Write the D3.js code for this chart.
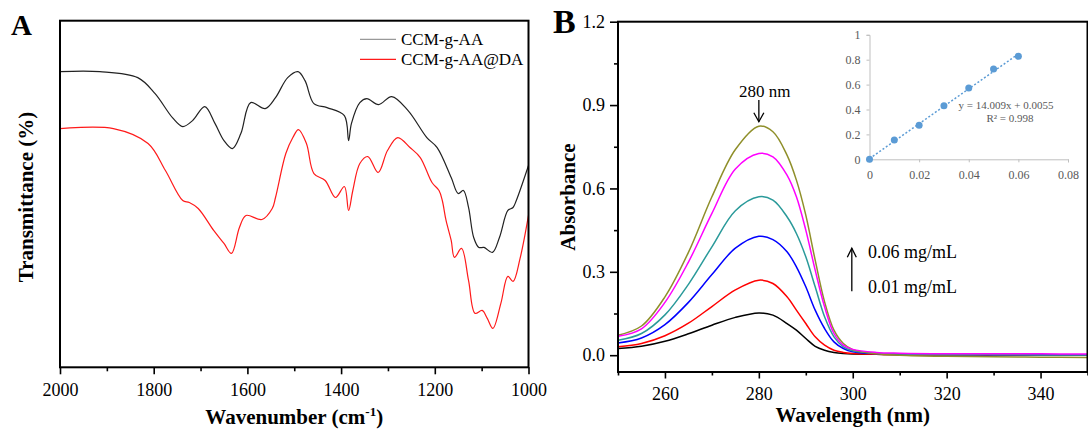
<!DOCTYPE html>
<html>
<head>
<meta charset="utf-8">
<script src="https://cdn.jsdelivr.net/npm/d3@7"></script>
<style>
  body { margin: 0; background: #fff; }
  svg text { font-family: "Liberation Serif", "Times New Roman", serif; }
</style>
</head>
<body>
<div id="chart"></div>
<script>
// ---- Panel A: FTIR spectra [wavenumber, transmittance (a.u.)] ----
const ccmGAA = [
  [2000, 296], [1915, 296], [1834, 290], [1797, 274], [1760, 250], [1738, 241], [1717, 247],
  [1691, 261], [1669, 244], [1650, 227], [1632, 219], [1614, 234], [1593, 265], [1562, 259],
  [1540, 270], [1514, 290], [1492, 296], [1477, 287], [1458, 264], [1430, 260], [1393, 252],
  [1384, 227], [1378, 244], [1360, 265], [1345, 269], [1320, 263], [1292, 271], [1257, 257],
  [1217, 230], [1195, 220], [1165, 190], [1150, 174], [1139, 177], [1128, 160], [1117, 130],
  [1106, 120], [1095, 120], [1077, 115], [1062, 130], [1044, 157], [1033, 160], [1026, 167],
  [1000, 202]
];
const ccmGAADA = [
  [2000, 239], [1886, 239], [1812, 224], [1775, 197], [1738, 167], [1724, 165], [1705, 159],
  [1672, 137], [1650, 124], [1634, 114], [1617, 140], [1603, 152], [1569, 148], [1547, 159],
  [1540, 170], [1518, 214], [1503, 230], [1491, 238], [1474, 224], [1458, 194], [1434, 187],
  [1412, 170], [1393, 181], [1384, 157], [1375, 177], [1360, 204], [1343, 211], [1321, 195],
  [1301, 217], [1279, 230], [1253, 220], [1231, 210], [1206, 185], [1191, 177], [1184, 167],
  [1176, 147], [1165, 127], [1158, 110], [1143, 119], [1128, 87], [1114, 54], [1099, 57],
  [1088, 49], [1076, 39], [1059, 64], [1044, 91], [1033, 86], [1018, 109], [1000, 152]
];
const seriesA = ["CCM-g-AA", "CCM-g-AA@DA"];
const ticksA = [2000, 1800, 1600, 1400, 1200, 1000];
const minorA = [1900, 1700, 1500, 1300, 1100];

// ---- Panel B: UV-vis spectra ----
const wavelengths = [250, 255, 260, 265, 270, 275, 280, 283, 286, 288, 290, 292, 294, 296, 298, 300, 305, 310, 320, 330, 340, 350];
const abs001 = [0.024, 0.032, 0.050, 0.077, 0.108, 0.136, 0.152, 0.144, 0.114, 0.090, 0.060, 0.032, 0.018, 0.010, 0.006, 0.004, 0.003, 0.002, 0.002, 0.002, 0.002, 0.002];
const abs002 = [0.030, 0.042, 0.070, 0.115, 0.175, 0.235, 0.270, 0.258, 0.210, 0.162, 0.114, 0.066, 0.036, 0.018, 0.010, 0.006, 0.003, 0.002, 0.001, 0.001, 0.001, 0.001];
const abs003 = [0.044, 0.062, 0.110, 0.190, 0.290, 0.385, 0.428, 0.416, 0.372, 0.318, 0.246, 0.162, 0.096, 0.048, 0.024, 0.012, 0.005, 0.003, 0.002, 0.002, 0.002, 0.002];
const abs004 = [0.054, 0.078, 0.145, 0.255, 0.390, 0.520, 0.570, 0.558, 0.498, 0.438, 0.354, 0.246, 0.138, 0.066, 0.030, 0.016, 0.007, 0.004, 0.002, 0.002, 0.001, 0.001];
const abs005 = [0.068, 0.095, 0.190, 0.335, 0.510, 0.670, 0.726, 0.714, 0.648, 0.570, 0.450, 0.306, 0.174, 0.078, 0.036, 0.021, 0.010, 0.007, 0.005, 0.005, 0.005, 0.004];
const abs006 = [0.072, 0.105, 0.210, 0.370, 0.570, 0.740, 0.824, 0.804, 0.720, 0.630, 0.504, 0.342, 0.192, 0.090, 0.042, 0.020, 0.005, 0.000, -0.004, -0.006, -0.007, -0.008];
const curveColors = ["#000000", "#ff0000", "#0000ff", "#2a9a9a", "#8f8f2a", "#ff00ff"];
const ticksBx = [260, 280, 300, 320, 340];
const minorBx = [250, 270, 290, 310, 330, 350];
const ticksBy = [0, 0.3, 0.6, 0.9, 1.2];
const minorBy = [0.15, 0.45, 0.75, 1.05];

// ---- Inset: calibration line ----
const conc = [0, 0.01, 0.02, 0.03, 0.04, 0.05, 0.06];
const absPeak = [0, 0.155, 0.273, 0.43, 0.573, 0.725, 0.827];
const fitSlope = 14.009, fitIntercept = 0.0055;
const insetTicksX = [0, 0.02, 0.04, 0.06, 0.08];
const insetTicksY = [0, 0.2, 0.4, 0.6, 0.8, 1];

const width = 1088, height = 435;
const serif = "'Liberation Serif', 'Times New Roman', serif";
const svg = d3.select("#chart").append("svg").attr("width", width).attr("height", height);

function styleAxis(g, size) {
  g.select(".domain").remove();
  g.selectAll(".tick line").attr("stroke", "#000").attr("stroke-width", 1.6);
  g.selectAll(".tick text").attr("fill", "#000").style("font-size", size + "px").style("font-family", serif);
}

// ================= Panel A =================
const A = { left: 60, right: 528.5, top: 20.7, bottom: 367.3 };
const xA = d3.scaleLinear().domain([2000, 1000]).range([A.left, A.right]);
const yA = d3.scaleLinear().domain([0, 347]).range([A.bottom, A.top]);

svg.append("g").attr("transform", `translate(0,${A.bottom})`)
  .call(d3.axisBottom(xA).tickValues(minorA).tickSize(4).tickFormat(""))
  .call(g => styleAxis(g, 18));
svg.append("g").attr("transform", `translate(0,${A.bottom})`)
  .call(d3.axisBottom(xA).tickValues(ticksA).tickSize(7).tickPadding(9).tickFormat(d3.format("d")))
  .call(g => styleAxis(g, 18));

const lineA = d3.line().x(d => xA(d[0])).y(d => yA(d[1])).curve(d3.curveCatmullRom.alpha(0.5));
svg.append("path").datum(ccmGAA).attr("fill", "none").attr("stroke", "#222").attr("stroke-width", 1.2).attr("d", lineA);
svg.append("path").datum(ccmGAADA).attr("fill", "none").attr("stroke", "#ff1a1a").attr("stroke-width", 1.2).attr("d", lineA);

svg.append("rect").attr("x", A.left).attr("y", A.top)
  .attr("width", A.right - A.left).attr("height", A.bottom - A.top)
  .attr("fill", "none").attr("stroke", "#000").attr("stroke-width", 2);

// legend
const legA = svg.append("g");
[["#999", 39.3], ["#ff1a1a", 59.3]].forEach((s, i) => {
  legA.append("line").attr("x1", 360).attr("x2", 396).attr("y1", s[1]).attr("y2", s[1])
    .attr("stroke", s[0]).attr("stroke-width", 1.3);
  legA.append("text").attr("x", 401).attr("y", s[1] + 5.5).attr("font-size", "17px").text(seriesA[i]);
});

svg.append("text").attr("x", 11).attr("y", 35).attr("font-size", "29px").attr("font-weight", "bold").text("A");
svg.append("text").attr("transform", "translate(33,197) rotate(-90)").attr("text-anchor", "middle")
  .attr("font-size", "21px").attr("font-weight", "bold").text("Transmittance (%)");
const tA = svg.append("text").attr("x", (A.left + A.right) / 2).attr("y", 424).attr("text-anchor", "middle")
  .attr("font-size", "21px").attr("font-weight", "bold");
tA.append("tspan").text("Wavenumber (cm");
tA.append("tspan").attr("font-size", "13px").attr("dy", -8).text("-1");
tA.append("tspan").attr("dy", 8).text(")");

// ================= Panel B =================
const B = { left: 618, right: 1087.5, top: 21.7, bottom: 372 };
const xB = d3.scaleLinear().domain([250, 350]).range([B.left, B.right]);
const yB = d3.scaleLinear().domain([-0.0605, 1.2]).range([B.bottom, B.top]);

svg.append("g").attr("transform", `translate(0,${B.bottom})`)
  .call(d3.axisBottom(xB).tickValues(minorBx).tickSize(3.5).tickFormat(""))
  .call(g => styleAxis(g, 18));
svg.append("g").attr("transform", `translate(0,${B.bottom})`)
  .call(d3.axisBottom(xB).tickValues(ticksBx).tickSize(6.5).tickPadding(9))
  .call(g => styleAxis(g, 18));
svg.append("g").attr("transform", `translate(${B.left},0)`)
  .call(d3.axisLeft(yB).tickValues(minorBy).tickSize(4).tickFormat(""))
  .call(g => styleAxis(g, 18));
svg.append("g").attr("transform", `translate(${B.left},0)`)
  .call(d3.axisLeft(yB).tickValues(ticksBy).tickSize(8).tickPadding(5).tickFormat(d3.format(".1f")))
  .call(g => styleAxis(g, 18));

// drawn low to high, olive before magenta so magenta sits on top of the tail
const spectra = [abs001, abs002, abs003, abs004, abs006, abs005];
const spectraColors = [curveColors[0], curveColors[1], curveColors[2], curveColors[3], curveColors[4], curveColors[5]];
const lineB = d3.line().x((d, i) => xB(wavelengths[i])).y(d => yB(d)).curve(d3.curveCatmullRom.alpha(0.5));
spectra.forEach((s, i) => {
  svg.append("path").datum(s).attr("fill", "none").attr("stroke", spectraColors[i])
    .attr("stroke-width", 1.5).attr("d", lineB);
});

svg.append("rect").attr("x", B.left).attr("y", B.top)
  .attr("width", B.right - B.left).attr("height", B.bottom - B.top)
  .attr("fill", "none").attr("stroke", "#000").attr("stroke-width", 2);

// peak annotation
const ax280 = xB(280);
svg.append("text").attr("x", ax280 + 6).attr("y", 97).attr("text-anchor", "middle").attr("font-size", "17px").text("280 nm");
svg.append("line").attr("x1", ax280).attr("x2", ax280).attr("y1", yB(0.918)).attr("y2", yB(0.84))
  .attr("stroke", "#000").attr("stroke-width", 1.3);
svg.append("path").attr("d", `M${ax280 - 5},${yB(0.84) - 9} L${ax280},${yB(0.84)} L${ax280 + 5},${yB(0.84) - 9}`)
  .attr("fill", "none").attr("stroke", "#000").attr("stroke-width", 1.3);

// concentration arrow
const axc = xB(299.8);
svg.append("line").attr("x1", axc).attr("x2", axc).attr("y1", yB(0.23)).attr("y2", yB(0.385))
  .attr("stroke", "#000").attr("stroke-width", 1.3);
svg.append("path").attr("d", `M${axc - 4.5},${yB(0.385) + 9} L${axc},${yB(0.385)} L${axc + 4.5},${yB(0.385) + 9}`)
  .attr("fill", "none").attr("stroke", "#000").attr("stroke-width", 1.3);
svg.append("text").attr("x", 868).attr("y", 258).attr("font-size", "18px").text("0.06 mg/mL");
svg.append("text").attr("x", 868).attr("y", 293).attr("font-size", "18px").text("0.01 mg/mL");

svg.append("text").attr("x", 553).attr("y", 33).attr("font-size", "34px").attr("font-weight", "bold").text("B");
svg.append("text").attr("transform", "translate(575,197) rotate(-90)").attr("text-anchor", "middle")
  .attr("font-size", "21px").attr("font-weight", "bold").text("Absorbance");
svg.append("text").attr("x", (B.left + B.right) / 2).attr("y", 422).attr("text-anchor", "middle")
  .attr("font-size", "21px").attr("font-weight", "bold").text("Wavelength (nm)");

// ================= Inset =================
const xI = d3.scaleLinear().domain([0, 0.08]).range([869.5, 1068]);
const yI = d3.scaleLinear().domain([0, 1]).range([159.3, 34.8]);
const grey = "#595959";

const gxI = svg.append("g").attr("transform", `translate(0,${yI(0)})`)
  .call(d3.axisBottom(xI).tickValues(insetTicksX).tickSize(3).tickPadding(8).tickFormat(d => d === 0 ? "0" : d3.format(".2f")(d)));
const gyI = svg.append("g").attr("transform", `translate(${xI(0)},0)`)
  .call(d3.axisLeft(yI).tickValues(insetTicksY).tickSize(3).tickPadding(6).tickFormat(d => d === 0 || d === 1 ? d : d3.format(".1f")(d)));
[gxI, gyI].forEach(g => {
  g.select(".domain").attr("stroke", "#bfbfbf");
  g.selectAll(".tick line").attr("stroke", "#bfbfbf");
  g.selectAll(".tick text").attr("fill", grey).style("font-size", "12px").style("font-family", serif);
});

svg.append("line")
  .attr("x1", xI(conc[0])).attr("y1", yI(fitSlope * conc[0] + fitIntercept))
  .attr("x2", xI(conc[conc.length - 1])).attr("y2", yI(fitSlope * conc[conc.length - 1] + fitIntercept))
  .attr("stroke", "#5b9bd5").attr("stroke-width", 1.5).attr("stroke-dasharray", "2,2");
svg.append("g").selectAll("circle").data(conc).join("circle")
  .attr("cx", d => xI(d)).attr("cy", (d, i) => yI(absPeak[i])).attr("r", 3.5).attr("fill", "#5b9bd5");

svg.append("text").attr("x", 1006).attr("y", 109).attr("text-anchor", "middle").attr("fill", grey)
  .attr("font-size", "11px").text(`y = ${fitSlope.toFixed(3)}x + ${fitIntercept}`);
svg.append("text").attr("x", 1010).attr("y", 121.5).attr("text-anchor", "middle").attr("fill", grey)
  .attr("font-size", "11px").text("R² = 0.998");
</script>
</body>
</html>
